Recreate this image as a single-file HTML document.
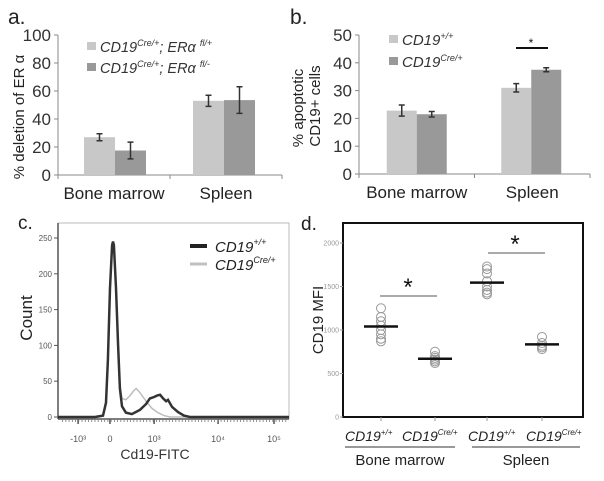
<!DOCTYPE html>
<html><head><meta charset="utf-8"><style>
html,body{margin:0;padding:0;background:#fff;}
svg{display:block;font-family:"Liberation Sans",sans-serif;}
</style></head><body>
<svg id="fig" width="604" height="481" viewBox="0 0 604 481">
<g id="pa"></g>
<g id="pb"></g>
<g id="pc"></g>
<g id="pd"></g>
</svg>
<script>
// Panel a data
const aCategories = ["Bone marrow", "Spleen"];
const aSeries1 = [27, 53];
const aErr1 = [2.5, 4];
const aSeries2 = [17.5, 53.5];
const aErr2 = [6, 9.5];
const aTicks = [0, 20, 40, 60, 80, 100];
// Panel b data
const bCategories = ["Bone marrow", "Spleen"];
const bSeries1 = [22.8, 31];
const bErr1 = [2, 1.5];
const bSeries2 = [21.5, 37.5];
const bErr2 = [1, 0.7];
const bTicks = [0, 10, 20, 30, 40, 50];
// Panel c data (channel 0-1000, count)
const cBlackX = [0,160,195,208,216,225,234,238,242,251,260,268,277,294,320,355,381,398,416,429,442,455,468,476,494,519,545,571,1000];
const cBlackY = [0,0,2,20,80,180,240,245,240,180,100,40,15,6,4,10,18,26,28,30,31,26,22,24,14,7,2,0,0];
const cGrayX = [0,160,195,208,216,225,234,238,242,251,260,268,277,294,312,329,338,355,381,407,433,459,485,1000];
const cGrayY = [0,0,2,20,80,180,240,245,240,180,100,45,26,24,30,37,40,34,22,12,6,2,0,0];
const cTickVals = [0, 50, 100, 150, 200, 250];
const cXTickPos = [87, 225, 416, 693, 935];
const cXTickLabels = ["-10³", "0", "10³", "10⁴", "10⁵"];
// Panel d data
const dGroups = ["CD19+/+ BM", "CD19Cre/+ BM", "CD19+/+ Sp", "CD19Cre/+ Sp"];
const dPoints = [
  [1250,1150,1100,1050,1000,950,900,870],
  [750,700,680,660,640,620],
  [1730,1700,1650,1560,1500,1460,1430,1410],
  [920,850,820,800,780]
];
const dMeans = [1040, 670, 1545, 835];
const dTicks = [0, 500, 1000, 1500, 2000];

const NS = "http://www.w3.org/2000/svg";
function mk(parent, tag, attrs, text){
  const e = document.createElementNS(NS, tag);
  for (const k in attrs) e.setAttribute(k, attrs[k]);
  if (text !== undefined) e.textContent = text;
  parent.appendChild(e);
  return e;
}
const LIGHT = "#c8c8c8", DARK = "#999999", AX = "#888";

function barPanel(g, o){
  const ys = v => o.y0 - (v - 0) / o.max * (o.y0 - o.y1);
  let e = mk(g, "line", {x1:o.xl, y1:o.y1, x2:o.xl, y2:o.y0, stroke:AX, "stroke-width":1});
  
  
  e = mk(g, "line", {x1:o.xl, y1:o.y0, x2:o.xr, y2:o.y0, stroke:AX, "stroke-width":1});
  
  
  o.ticks.forEach(t => {
    const y = ys(t);
    let l = mk(g, "line", {x1:o.xl-4, y1:y, x2:o.xl, y2:y, stroke:AX});
    
    
    let tx = mk(g, "text", {x:o.xl-7, y:y+6, "text-anchor":"end", "font-size":17, fill:"#333"}, String(t));
    
    
  });
  const cw = (o.xr - o.xl) / o.cats.length;
  [o.xl, o.xl+cw, o.xr].forEach(x => {
    let l = mk(g, "line", {x1:x, y1:o.y0, x2:x, y2:o.y0+4, stroke:AX});
    
    
  });
  o.cats.forEach((c, i) => {
    const cx = o.xl + cw*(i+0.5) + o.shift[i];
    [[o.s1, o.e1, LIGHT, -1], [o.s2, o.e2, DARK, 0]].forEach(([s, er, col, off], k) => {
      const x = cx + off*o.bw;
      let r = mk(g, "rect", {x:x, y:ys(s[i]), width:o.bw, height:o.y0-ys(s[i]), fill:col});
      
      
      const mx = x + o.bw/2, yt = ys(s[i]+er[i]), yb = ys(s[i]-er[i]);
      let eb = mk(g, "path", {d:`M${mx-3},${yt}H${mx+3}M${mx},${yt}V${yb}M${mx-3},${yb}H${mx+3}`, stroke:"#333", "stroke-width":1.5, fill:"none"});
      
      
    });
    let t = mk(g, "text", {x:o.xl + cw*(i+0.5), y:o.y0+24, "text-anchor":"middle", "font-size":17, fill:"#222"}, c);
    
    
  });
  return ys;
}

// Panel a
const pa = document.getElementById("pa");
barPanel(pa, {xl:58, xr:282, y0:175, y1:35, max:100, ticks:aTicks, cats:aCategories, s1:aSeries1, e1:aErr1, s2:aSeries2, e2:aErr2, bw:31, shift:[1,-2]});
let t;
t = mk(pa, "text", {x:8, y:24, "font-size":21, fill:"#222"}, "a.");


t = mk(pa, "text", {x:0, y:0, "font-size":15, fill:"#222", "text-anchor":"middle", transform:"translate(24,117) rotate(-90)"}, "% deletion of ER α");


let r;
r = mk(pa, "rect", {x:87, y:42, width:9, height:8, fill:LIGHT});


r = mk(pa, "rect", {x:87, y:63, width:9, height:8, fill:DARK});


t = mk(pa, "text", {x:100, y:52, "font-size":14.5, fill:"#333", "font-style":"italic"});
t.innerHTML = 'CD19<tspan font-size="9" dy="-6">Cre/+</tspan><tspan dy="6">; ERα </tspan><tspan font-size="9" dy="-6">fl/+</tspan>';


t = mk(pa, "text", {x:100, y:73, "font-size":14.5, fill:"#333", "font-style":"italic"});
t.innerHTML = 'CD19<tspan font-size="9" dy="-6">Cre/+</tspan><tspan dy="6">; ERα </tspan><tspan font-size="9" dy="-6">fl/-</tspan>';



// Panel b
const pb = document.getElementById("pb");
barPanel(pb, {xl:359, xr:590, y0:174, y1:35, max:50, ticks:bTicks, cats:bCategories, s1:bSeries1, e1:bErr1, s2:bSeries2, e2:bErr2, bw:30, shift:[0,-1]});
t = mk(pb, "text", {x:290, y:24, "font-size":21, fill:"#222"}, "b.");


t = mk(pb, "text", {x:0, y:0, "font-size":15, fill:"#222", "text-anchor":"middle", transform:"translate(303,108) rotate(-90)"}, "% apoptotic");


t = mk(pb, "text", {x:0, y:0, "font-size":15, fill:"#222", "text-anchor":"middle", transform:"translate(320,106) rotate(-90)"}, "CD19+ cells");


r = mk(pb, "rect", {x:389, y:35, width:9, height:8, fill:LIGHT});


r = mk(pb, "rect", {x:389, y:57, width:9, height:8, fill:DARK});


t = mk(pb, "text", {x:402, y:45, "font-size":15, fill:"#333", "font-style":"italic"});
t.innerHTML = 'CD19<tspan font-size="9" dy="-6">+/+</tspan>';


t = mk(pb, "text", {x:402, y:67, "font-size":15, fill:"#333", "font-style":"italic"});
t.innerHTML = 'CD19<tspan font-size="9" dy="-6">Cre/+</tspan>';


let l = mk(pb, "line", {x1:516, y1:48, x2:548, y2:48, stroke:"#111", "stroke-width":2});


t = mk(pb, "text", {x:531, y:47, "font-size":12, "text-anchor":"middle", fill:"#111"}, "*");



// Panel c
const pc = document.getElementById("pc");
const cxs = v => 58 + v * 0.231;
const cys = v => 417 - v * 0.716;
let fr = mk(pc, "path", {d:"M58,223H289V419", fill:"none", stroke:"#bbb", "stroke-width":1});


l = mk(pc, "line", {x1:58, y1:223, x2:58, y2:419, stroke:"#555", "stroke-width":1.5});


l = mk(pc, "line", {x1:58, y1:419, x2:289, y2:419, stroke:"#555", "stroke-width":1.5});


cTickVals.forEach(v => {
  let k = mk(pc, "line", {x1:54, y1:cys(v), x2:58, y2:cys(v), stroke:"#555"});
  
  
  let tt = mk(pc, "text", {x:52, y:cys(v)+3, "font-size":8, "text-anchor":"end", fill:"#555"}, String(v));
  
  
});
cXTickPos.forEach((p, i) => {
  let k = mk(pc, "line", {x1:cxs(p), y1:419, x2:cxs(p), y2:424, stroke:"#555", "stroke-width":1.5});
  
  
  let tt = mk(pc, "text", {x:cxs(p), y:442, "font-size":9, "text-anchor":"middle", fill:"#555"}, cXTickLabels[i]);
  
  
});
for (let p = 20; p < 1000; p += 14) {
  let k = mk(pc, "line", {x1:cxs(p), y1:419, x2:cxs(p), y2:422, stroke:"#777", "stroke-width":0.8});
  
  
}
function linePath(xs, ys){ return xs.map((x,i)=>(i?"L":"M")+cxs(x).toFixed(1)+","+cys(ys[i]).toFixed(1)).join(""); }
let gp = mk(pc, "path", {d:linePath(cGrayX, cGrayY), fill:"none", stroke:"#bdbdbd", "stroke-width":1.5});


let bp = mk(pc, "path", {d:linePath(cBlackX, cBlackY), fill:"none", stroke:"#333", "stroke-width":2.5});


t = mk(pc, "text", {x:18, y:229, "font-size":19, fill:"#222"}, "c.");


t = mk(pc, "text", {x:0, y:0, "font-size":17, fill:"#222", "text-anchor":"middle", transform:"translate(32,318) rotate(-90)"}, "Count");


t = mk(pc, "text", {x:155, y:459, "font-size":14, fill:"#333", "text-anchor":"middle"}, "Cd19-FITC");


l = mk(pc, "line", {x1:190, y1:246, x2:207, y2:246, stroke:"#222", "stroke-width":4});


l = mk(pc, "line", {x1:190, y1:264, x2:207, y2:264, stroke:"#c0c0c0", "stroke-width":3});


t = mk(pc, "text", {x:215, y:252, "font-size":15, fill:"#222", "font-style":"italic"});
t.innerHTML = 'CD19<tspan font-size="9" dy="-7">+/+</tspan>';


t = mk(pc, "text", {x:215, y:270, "font-size":15, fill:"#222", "font-style":"italic"});
t.innerHTML = 'CD19<tspan font-size="9" dy="-7">Cre/+</tspan>';



// Panel d
const pd = document.getElementById("pd");
const dys = v => 417 - v * 0.087;
const dxs = i => [381, 435, 487, 542][i];
const dLabelX = [345, 402, 468, 526];
fr = mk(pd, "rect", {x:343, y:223, width:240, height:194, fill:"none", stroke:"#111", "stroke-width":2});


dTicks.forEach(v => {
  let k = mk(pd, "line", {x1:340, y1:dys(v), x2:343, y2:dys(v), stroke:"#999"});
  
  
  let tt = mk(pd, "text", {x:339, y:dys(v)+2.5, "font-size":7, "text-anchor":"end", fill:"#999"}, String(v));
  
  
});
dGroups.forEach((gname, i) => {
  let k = mk(pd, "line", {x1:dxs(i), y1:417, x2:dxs(i), y2:421, stroke:"#999"});
  
  
  dPoints[i].forEach(v => {
    let c = mk(pd, "circle", {cx:dxs(i), cy:dys(v), r:4.5, fill:"none", stroke:"#999", "stroke-width":1});
    
    
  });
  let m = mk(pd, "line", {x1:dxs(i)-17, y1:dys(dMeans[i]), x2:dxs(i)+17, y2:dys(dMeans[i]), stroke:"#111", "stroke-width":2.5});
  
  
  let tt = mk(pd, "text", {x:dLabelX[i], y:441, "font-size":14, fill:"#222", "font-style":"italic"});
  tt.innerHTML = 'CD19<tspan font-size="8" dy="-6">' + (i%2===0 ? '+/+' : 'Cre/+') + '</tspan>';
  
  
});
[[380,437,296,408],[488,545,253,515]].forEach(([x1,x2,y,sx]) => {
  let k = mk(pd, "line", {x1:x1, y1:y, x2:x2, y2:y, stroke:"#777", "stroke-width":1.2});
  
  
  let s = mk(pd, "text", {x:sx, y:y-1, "font-size":24, "text-anchor":"middle", fill:"#111"}, "*");
  
  
});
l = mk(pd, "line", {x1:345, y1:447, x2:455, y2:447, stroke:"#333", "stroke-width":1});


l = mk(pd, "line", {x1:472, y1:447, x2:580, y2:447, stroke:"#333", "stroke-width":1});


t = mk(pd, "text", {x:400, y:465, "font-size":15, "text-anchor":"middle", fill:"#222"}, "Bone marrow");


t = mk(pd, "text", {x:526, y:465, "font-size":15, "text-anchor":"middle", fill:"#222"}, "Spleen");


t = mk(pd, "text", {x:0, y:0, "font-size":15, fill:"#222", "text-anchor":"middle", transform:"translate(323,320) rotate(-90)"}, "CD19 MFI");


t = mk(pd, "text", {x:301, y:230, "font-size":19, fill:"#222"}, "d.");


</script>
</body></html>
